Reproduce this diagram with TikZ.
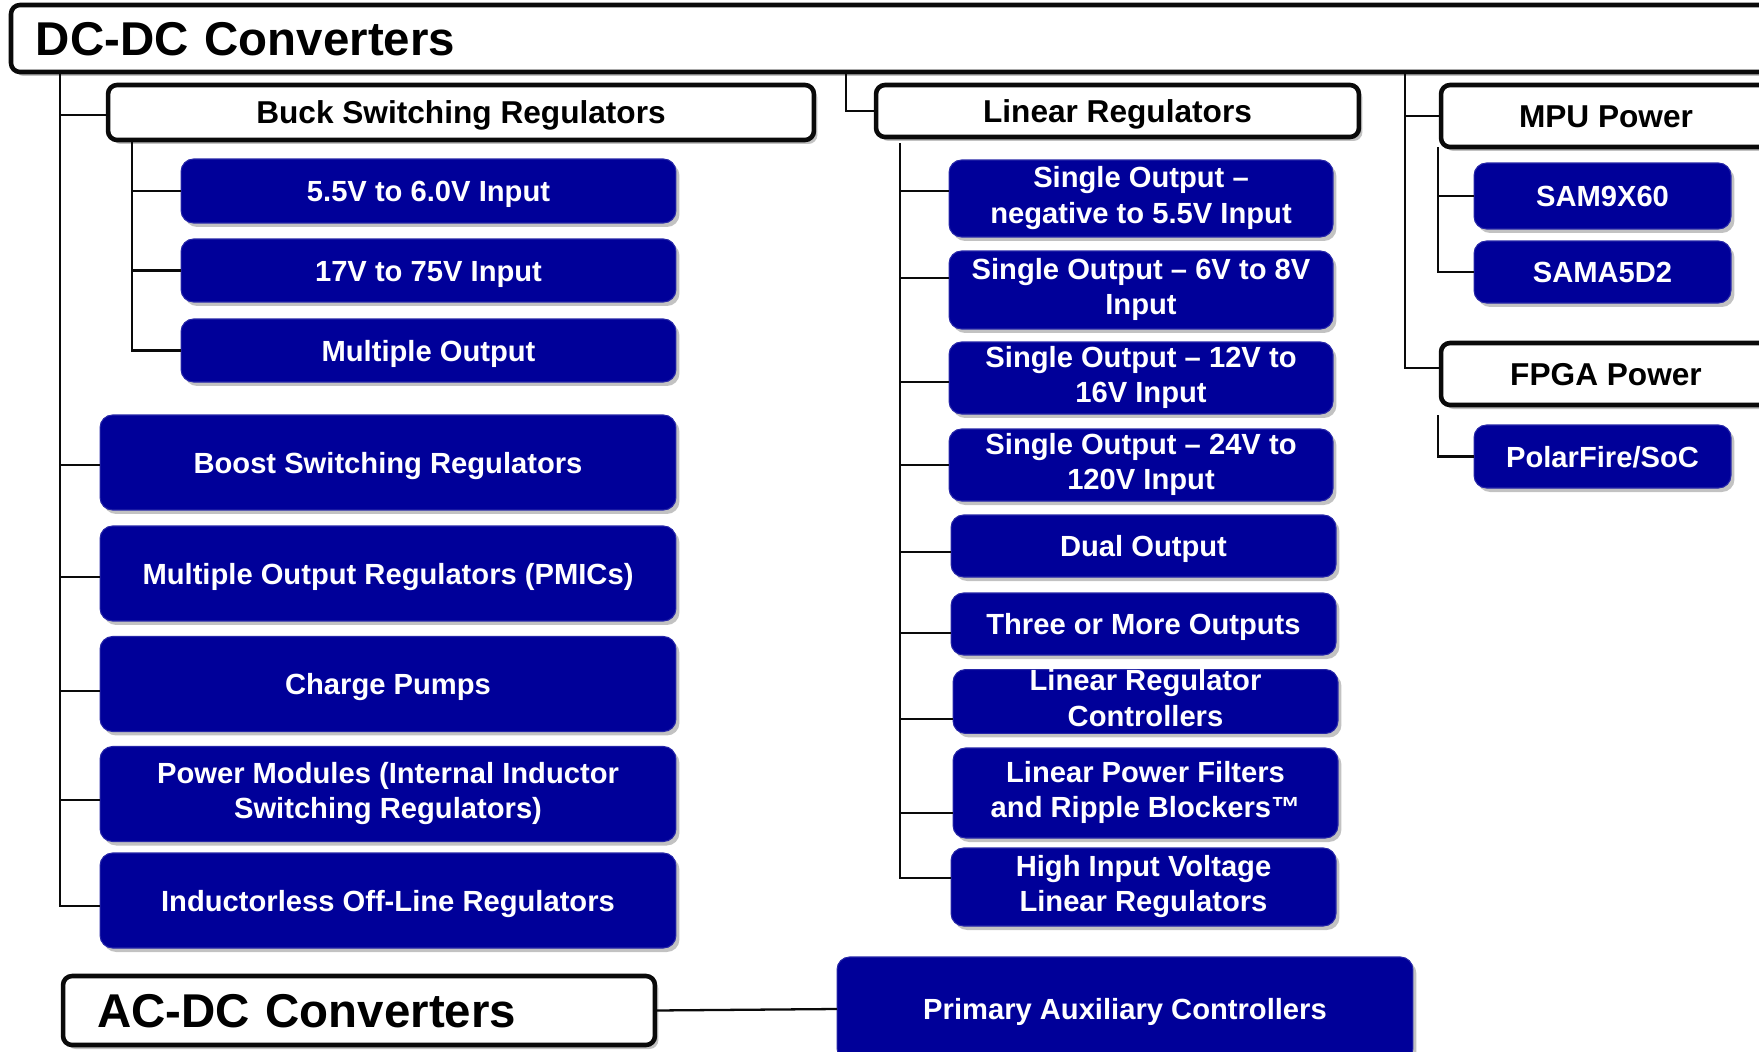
\documentclass[tikz,border=0pt]{standalone}
\usepackage{fontspec}
\setmainfont{Liberation Sans}
\usetikzlibrary{shadows,calc}

\definecolor{pwrblue}{RGB}{0,0,153}
\definecolor{pwrline}{RGB}{10,10,10}
\definecolor{pwrshade}{RGB}{120,120,120}

\begin{document}
\begin{tikzpicture}[
  x=0.02cm,
  y=-0.02cm,
  every node/.style={inner sep=0pt, outer sep=0pt},
  pwrShade/.style={drop shadow={shadow xshift=0.07cm, shadow yshift=-0.08cm, fill=pwrshade, opacity=0.45}},
  pwrMid/.style={execute at begin node=\rule{0pt}{0.97em}, execute at end node=\rule[-0.25em]{0pt}{0.25em}},
  pwrTop/.style={draw=pwrline, fill=white, line width=2.6pt, rounded corners=0.18cm, pwrShade, pwrMid,
    font=\bfseries\fontsize{27}{29}\selectfont, align=left},
  pwrHead/.style={draw=pwrline, fill=white, line width=2.6pt, rounded corners=0.18cm, pwrShade, pwrMid,
    font=\bfseries\fontsize{18}{20}\selectfont, align=center},
  pwrItem/.style={draw=pwrblue!85!white, fill=pwrblue, line width=0.6pt, rounded corners=0.25cm, pwrShade, pwrMid,
    text=white, font=\bfseries\fontsize{16.6}{20.2}\selectfont, align=center},
  pwrConn/.style={draw=pwrline, line width=1.3pt}
]

  \useasboundingbox (0,0) rectangle (1759,1052);

  % top level
  \node[pwrTop, anchor=north west, minimum height=1.34cm, inner xsep=0.5cm, text width=34.4cm] (dcdc) at (11,5) {DC-DC Converters};
  \node[pwrTop, minimum height=1.38cm, inner xsep=0.68cm, text width=10.48cm] (acdc) at (359,1010.5) {AC-DC Converters};

  % switching column
  \node[pwrHead, minimum width=14.12cm, minimum height=1.10cm] (buck) at (461,112.5) {Buck Switching Regulators};
  \node[pwrItem, minimum width=9.90cm, minimum height=1.28cm] (bLow) at (428.5,191) {5.5V to 6.0V Input};
  \node[pwrItem, minimum width=9.90cm, minimum height=1.26cm] (bHigh) at (428.5,270.5) {17V to 75V Input};
  \node[pwrItem, minimum width=9.90cm, minimum height=1.26cm] (bMulti) at (428.5,350.5) {Multiple Output};

  \node[pwrItem, minimum width=11.52cm, minimum height=1.90cm] (boost) at (388,462.5) {Boost Switching Regulators};
  \node[pwrItem, minimum width=11.52cm, minimum height=1.90cm] (pmic) at (388,573.5) {Multiple Output Regulators (PMICs)};
  \node[pwrItem, minimum width=11.52cm, minimum height=1.90cm] (cpump) at (388,684) {Charge Pumps};
  \node[pwrItem, minimum width=11.52cm, minimum height=1.90cm] (pmod) at (388,794) {Power Modules (Internal Inductor\\Switching Regulators)};
  \node[pwrItem, minimum width=11.52cm, minimum height=1.90cm] (offline) at (388,900.5) {Inductorless Off-Line Regulators};

  % linear column
  \node[pwrHead, minimum width=9.66cm, minimum height=1.04cm] (linear) at (1117.5,111) {Linear Regulators};
  \node[pwrItem, minimum width=7.68cm, minimum height=1.54cm] (lNeg) at (1141,198.5) {Single Output --\\negative to 5.5V Input};
  \node[pwrItem, minimum width=7.68cm, minimum height=1.56cm] (lSix) at (1141,290) {Single Output -- 6V to 8V\\Input};
  \node[pwrItem, minimum width=7.68cm, minimum height=1.44cm] (lTwelve) at (1141,378) {Single Output -- 12V to\\16V Input};
  \node[pwrItem, minimum width=7.68cm, minimum height=1.44cm] (lTwenty) at (1141,465) {Single Output -- 24V to\\120V Input};
  \node[pwrItem, minimum width=7.70cm, minimum height=1.24cm] (lDual) at (1143.5,546) {Dual Output};
  \node[pwrItem, minimum width=7.70cm, minimum height=1.24cm] (lThree) at (1143.5,624) {Three or More Outputs};
  \node[pwrItem, minimum width=7.70cm, minimum height=1.26cm] (lCtrl) at (1145.5,701.5) {Linear Regulator\\Controllers};
  \node[pwrItem, minimum width=7.70cm, minimum height=1.80cm] (lFilter) at (1145.5,793) {Linear Power Filters\\and Ripple Blockers™};
  \node[pwrItem, minimum width=7.70cm, minimum height=1.56cm] (lHigh) at (1143.5,887) {High Input Voltage\\Linear Regulators};

  % processor column
  \node[pwrHead, minimum width=6.60cm, minimum height=1.24cm] (mpu) at (1606,116) {MPU Power};
  \node[pwrItem, minimum width=5.14cm, minimum height=1.32cm] (sam9) at (1602.5,196) {SAM9X60};
  \node[pwrItem, minimum width=5.14cm, minimum height=1.24cm] (sama5) at (1602.5,272) {SAMA5D2};
  \node[pwrHead, minimum width=6.60cm, minimum height=1.24cm] (fpga) at (1606,374) {FPGA Power};
  \node[pwrItem, minimum width=5.14cm, minimum height=1.26cm] (polar) at (1602.5,456.5) {PolarFire/SoC};

  \node[pwrItem, minimum width=11.52cm, minimum height=2.08cm] (primary) at (1125,1009) {Primary Auxiliary Controllers};

  % trunks
  \coordinate (tMain) at (60,72);
  \coordinate (tLin) at (846,72);
  \coordinate (tProc) at (1405,72);
  \coordinate (tBuck) at (132,140);
  \coordinate (tLinear) at (900,143);
  \coordinate (tMpu) at (1438,147);
  \coordinate (tFpga) at (1438,415);

  \foreach \n/\dy in {buck/2.5,boost/2.5,pmic/3.5,cpump/7,pmod/6,offline/5.5}
    \draw[pwrConn] (tMain) |- ($(\n.west)+(0,\dy)$);
  \foreach \n in {bLow,bHigh,bMulti}
    \draw[pwrConn] (tBuck) |- (\n.west);
  \draw[pwrConn] (tLin) |- (linear.west);
  \foreach \n/\dy in {lNeg/-7.5,lSix/-12,lTwelve/4,lTwenty/0,lDual/6,lThree/9,lCtrl/17.5,lFilter/20,lHigh/-9}
    \draw[pwrConn] (tLinear) |- ($(\n.west)+(0,\dy)$);
  \draw[pwrConn] (tProc) |- (mpu.west);
  \draw[pwrConn] (tProc) |- ($(fpga.west)+(0,-6)$);
  \foreach \n in {sam9,sama5}
    \draw[pwrConn] (tMpu) |- (\n.west);
  \draw[pwrConn] (tFpga) |- (polar.west);
  \draw[pwrConn] (acdc.east) -- (primary.west);

\end{tikzpicture}
\end{document}
